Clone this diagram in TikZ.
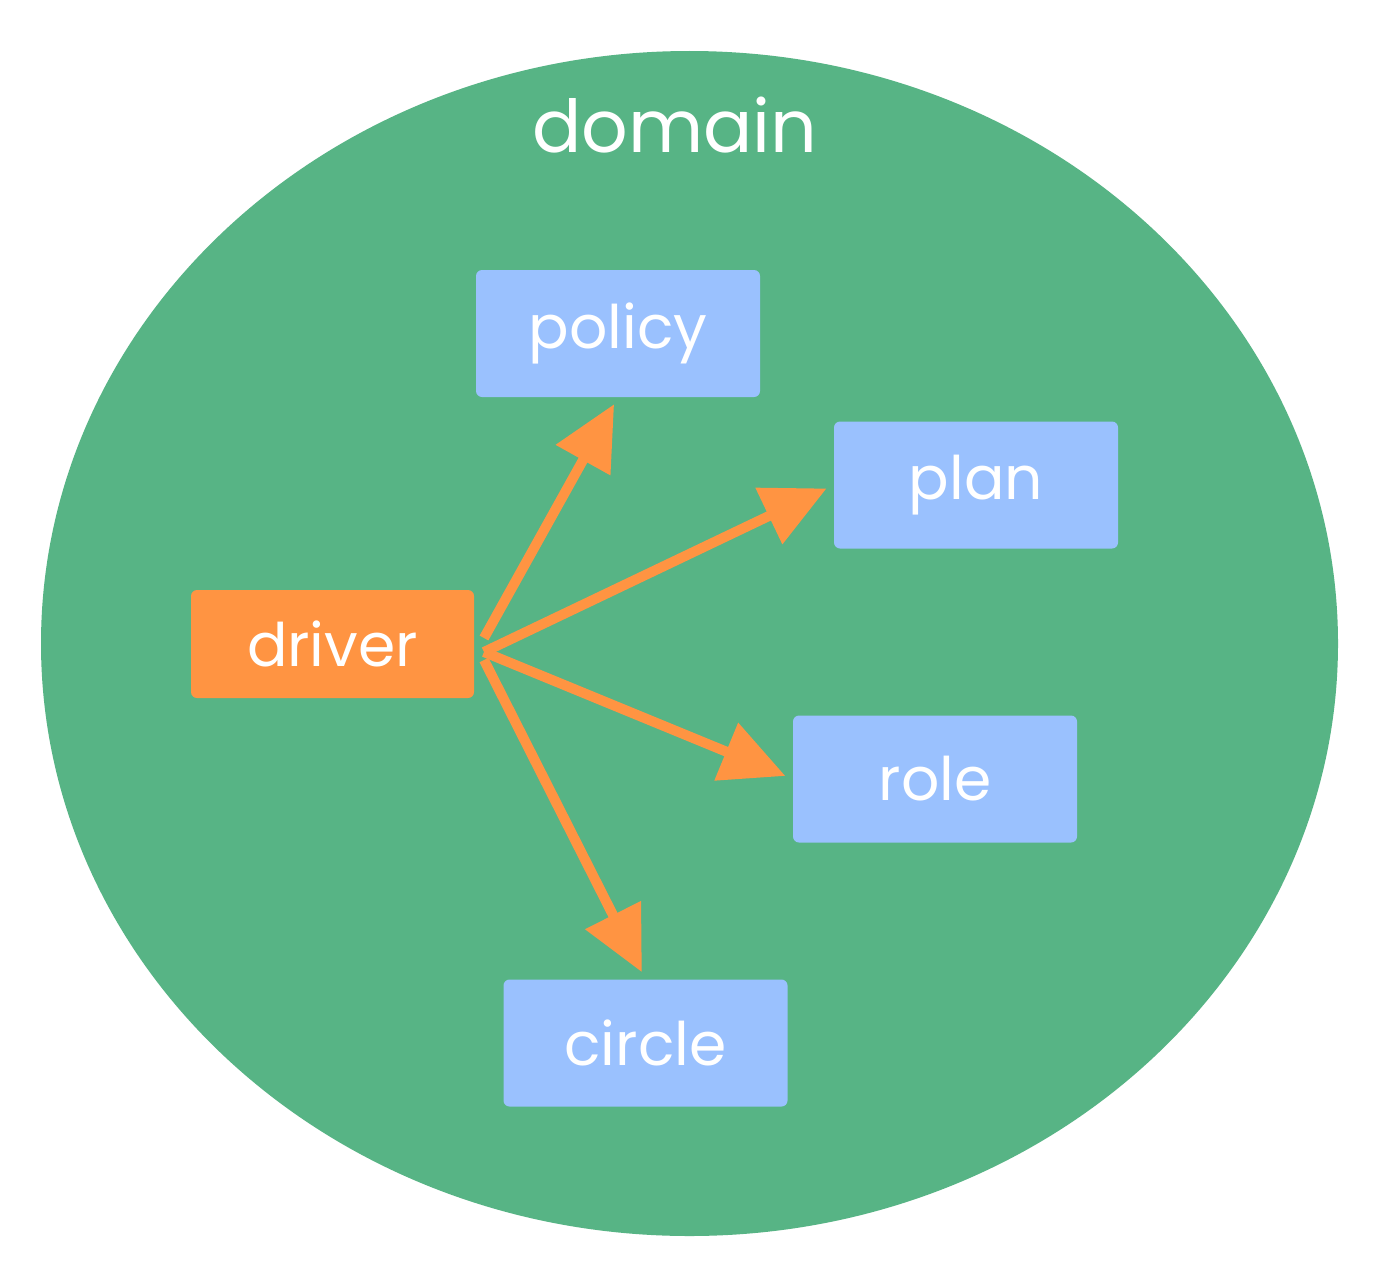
\documentclass[tikz,border=0pt]{standalone}
\usepackage{fontspec}
\setmainfont{Poppins}
\usetikzlibrary{arrows.meta}
\definecolor{dgreen}{HTML}{57B485}
\definecolor{bblue}{HTML}{9AC1FE}
\definecolor{dorange}{HTML}{FF9442}
\tikzset{
  x=1pt,y=-1pt,
  box/.style={fill=bblue,rounded corners=6pt,minimum width=284pt,minimum height=127pt,inner sep=0pt,text=white,font=\fontsize{60}{60}\selectfont},
  drv/.style={box,fill=dorange,minimum width=283pt,minimum height=108pt},
  arr/.style={draw=dorange,line width=10pt,-{Triangle[length=64pt,width=60pt]},shorten >=8pt}
}
\begin{document}
\begin{tikzpicture}
\useasboundingbox (0,0) rectangle (1380,1263);
\fill[white] (0,0) rectangle (1380,1263);
\fill[dgreen] (689.5,643.5) ellipse [x radius=648.5pt, y radius=592.5pt];
\node[text=white,font=\fontsize{73}{73}\selectfont,anchor=base] (domain) at (675,152) {domain};
\node[box] (policy) at (618,333.5) {policy};
\node[box] (plan) at (976,485) {plan};
\node[box] (role) at (935,779) {role};
\node[box] (circle) at (645.5,1043) {circle};
\node[drv] (driver) at (332.5,644) {driver};
\coordinate (srctop) at (484,638);
\coordinate (srcmid) at (484,652);
\coordinate (srcbot) at (484,660);
\draw[arr] (srctop) -- (policy.south);
\draw[arr] (srcmid) -- (plan.west);
\draw[arr] (srcmid) -- (role.west);
\draw[arr] (srcbot) -- (circle.north);
\end{tikzpicture}
\end{document}
